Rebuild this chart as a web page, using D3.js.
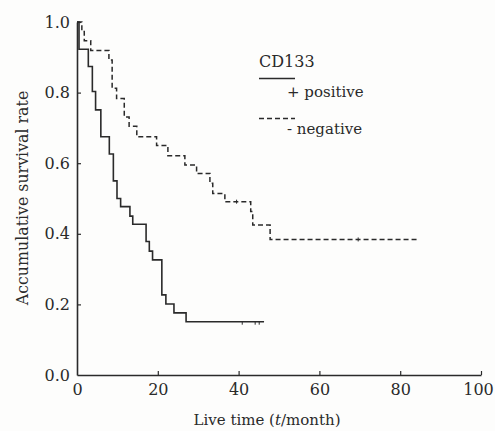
<!DOCTYPE html>
<html>
<head>
<meta charset="utf-8">
<script src="https://cdn.jsdelivr.net/npm/d3@7"></script>
<style>
  html, body { margin: 0; padding: 0; background: #fdfdfc; }
  svg { display: block; }
  text { font-family: "DejaVu Serif", "Liberation Serif", serif; fill: #2a2a2a; }
</style>
</head>
<body>
<svg id="chart" width="495" height="431"></svg>
<script>
// ---- data ----
const xTicks = [0, 20, 40, 60, 80, 100];
const yTicks = [0.0, 0.2, 0.4, 0.6, 0.8, 1.0];

// CD133 positive (solid)
const posTime     = [0, 0.5, 2.8, 3.8, 4.6, 5.9, 8.0, 9.0, 9.9, 10.8, 13.1, 13.8, 17.1, 17.9, 18.7, 21.0, 22.0, 24.0, 27.0, 46.3];
const posSurvival = [1.0, 0.923, 0.874, 0.803, 0.751, 0.675, 0.626, 0.550, 0.500, 0.477, 0.450, 0.427, 0.378, 0.351, 0.326, 0.227, 0.201, 0.176, 0.151, 0.151];
const posCensorTime = [40.9, 44.1, 45.1];

// CD133 negative (dashed)
const negTime     = [0, 1.2, 1.8, 3.4, 7.9, 8.7, 9.8, 11.7, 12.9, 14.8, 19.7, 22.5, 26.7, 29.6, 32.9, 33.6, 36.6, 43.0, 43.5, 47.8, 84.4];
const negSurvival = [1.0, 0.973, 0.947, 0.919, 0.892, 0.812, 0.783, 0.731, 0.705, 0.675, 0.650, 0.621, 0.595, 0.571, 0.543, 0.514, 0.491, 0.463, 0.425, 0.384, 0.384];
const negCensorTime = [39.5, 69.6];

const legendTitle = "CD133";
const legendLabels = ["+ positive", "- negative"];
const xLabel = ["Live time (", "t", "/month)"];
const yLabel = "Accumulative survival rate";

// ---- drawing ----
const svg = d3.select("#chart");
const x = d3.scaleLinear().domain([0, 100]).range([77, 481]);
const y = d3.scaleLinear().domain([0, 1]).range([375, 22]);
const ink = "#2a2a2a";

// axes
const xAxis = d3.axisBottom(x).tickValues(xTicks).tickFormat(d3.format("d")).tickSizeInner(-4).tickSizeOuter(0).tickPadding(9);
const yAxis = d3.axisLeft(y).tickValues(yTicks).tickFormat(d3.format(".1f")).tickSizeInner(-4).tickSizeOuter(0).tickPadding(7);

const gx = svg.append("g").attr("transform", `translate(0,${y(0)})`).call(xAxis);
const gy = svg.append("g").attr("transform", `translate(${x(0)},0)`).call(yAxis);
[gx, gy].forEach(g => {
  g.select(".domain").attr("stroke", ink).attr("stroke-width", 1.6);
  g.selectAll(".tick line").attr("stroke", ink).attr("stroke-width", 1.2);
  g.selectAll(".tick text").attr("font-family", "DejaVu Serif").attr("font-size", 16).attr("fill", ink);
});
gy.selectAll(".tick text").attr("dy", "0.32em");
gx.selectAll(".tick").filter(d => d === 100).select("text").attr("dx", -3);
// hide the 0 tick lines overlapping the axes
gx.selectAll(".tick").filter(d => d === 0).select("line").remove();
gy.selectAll(".tick").filter(d => d === 0).select("line").remove();

// curves
const line = d3.line().x(d => x(d[0])).y(d => y(d[1])).curve(d3.curveStepAfter);
const posData = posTime.map((t, i) => [t, posSurvival[i]]);
const negData = negTime.map((t, i) => [t, negSurvival[i]]);

svg.append("path").datum(posData).attr("d", line)
  .attr("fill", "none").attr("stroke", ink).attr("stroke-width", 1.6);
svg.append("path").datum(negData).attr("d", line)
  .attr("fill", "none").attr("stroke", ink).attr("stroke-width", 1.5)
  .attr("stroke-dasharray", "5,3");

// censor marks
function survAt(times, surv, t) {
  let s = surv[0];
  for (let i = 0; i < times.length; i++) if (times[i] <= t) s = surv[i];
  return s;
}
svg.selectAll(".cpos").data(posCensorTime).enter().append("line")
  .attr("x1", d => x(d)).attr("x2", d => x(d))
  .attr("y1", d => y(survAt(posTime, posSurvival, d)))
  .attr("y2", d => y(survAt(posTime, posSurvival, d)) + 3)
  .attr("stroke", ink).attr("stroke-width", 1);
svg.selectAll(".cneg").data(negCensorTime).enter().append("line")
  .attr("x1", d => x(d)).attr("x2", d => x(d))
  .attr("y1", d => y(survAt(negTime, negSurvival, d)) - 2)
  .attr("y2", d => y(survAt(negTime, negSurvival, d)) + 2)
  .attr("stroke", ink).attr("stroke-width", 1);

// legend
svg.append("text").attr("x", 259).attr("y", 66.5).attr("font-size", 16).text(legendTitle);
svg.append("line").attr("x1", 259).attr("x2", 295).attr("y1", 78.5).attr("y2", 78.5)
  .attr("stroke", ink).attr("stroke-width", 1.4);
svg.append("text").attr("x", 287).attr("y", 97).attr("font-size", 15).text(legendLabels[0]);
svg.append("line").attr("x1", 259).attr("x2", 295).attr("y1", 118.5).attr("y2", 118.5)
  .attr("stroke", ink).attr("stroke-width", 1.4).attr("stroke-dasharray", "5,3");
svg.append("text").attr("x", 287).attr("y", 134).attr("font-size", 15).text(legendLabels[1]);

// axis titles
const xt = svg.append("text").attr("x", 267).attr("y", 425).attr("text-anchor", "middle").attr("font-size", 15);
xt.append("tspan").text(xLabel[0]);
xt.append("tspan").attr("font-style", "italic").text(xLabel[1]);
xt.append("tspan").text(xLabel[2]);

svg.append("text").attr("transform", "translate(28,198) rotate(-90)")
  .attr("text-anchor", "middle").attr("font-size", 15.8).text(yLabel);
</script>
</body>
</html>
